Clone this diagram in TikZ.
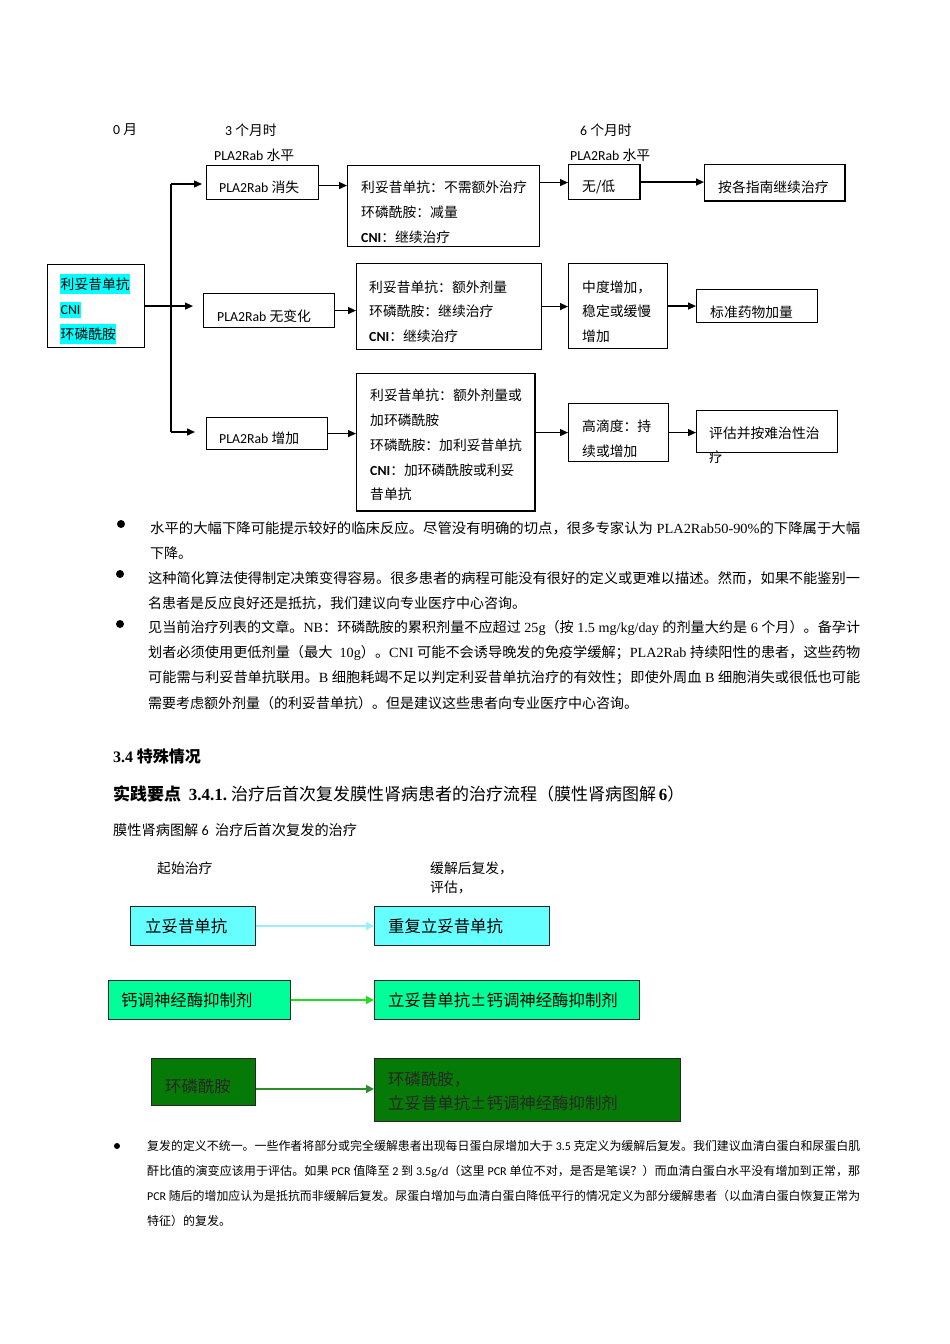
\documentclass[tikz,border=0pt]{standalone}
\usepackage{fontspec}
\usepackage{graphicx}
\setmainfont{Noto Sans CJK SC}
\newfontfamily\calib{Carlito}
\newfontfamily\tnr{Liberation Serif}
\usetikzlibrary{arrows.meta}
\definecolor{hlcyan}{HTML}{00FFFF}
\definecolor{boxcyan}{HTML}{66FFFF}
\definecolor{arrcyan}{HTML}{99EEFF}
\definecolor{boxmint}{HTML}{00FF99}
\definecolor{arrgreen}{HTML}{22DD22}
\definecolor{boxdark}{HTML}{067A06}
\definecolor{arrdark}{HTML}{2E8B2E}
\newcommand\fullline[2]{\resizebox{#1}{\height}{#2}}
\begin{document}
\begin{tikzpicture}[x=1pt,y=-1pt,
  bx/.style={draw=black, line width=1.1pt, anchor=north west, inner sep=0pt},
  tx/.style={anchor=west, inner sep=0pt, font=\fontsize{13.8}{16}\selectfont},
  hl/.style={tx, fill=hlcyan, inner xsep=0.5pt, inner ysep=3.5pt},
  arr/.style={draw=black, line width=1.3pt, -{Triangle[length=8pt,width=7pt]}},
  bt/.style={anchor=west, inner sep=0pt, font=\fontsize{14}{16}\selectfont},
  nt/.style={anchor=west, inner sep=0pt, font=\fontsize{12}{14}\selectfont},
  dot/.style={circle, fill=black, inner sep=0pt, minimum size=8pt},
  cb/.style={draw=black!85, line width=0.9pt, anchor=north west, inner sep=0pt},
  bigt/.style={anchor=west, inner sep=0pt, font=\fontsize{16.4}{18}\selectfont},
  carr/.style={line width=1.6pt, -{Triangle[length=8pt,width=8pt]}}
]
\fill[white] (0,0) rectangle (950,1344);
\useasboundingbox (0,0) rectangle (950,1344);

% ---------- top headers
\node[tx] (h0) at (113,130) {{\calib 0} 月};
\node[tx] (h3) at (225,130) {{\calib 3} 个月时};
\node[tx] (h6) at (580,130) {{\calib 6} 个月时};
\node[tx] (p3) at (214,155) {{\calib PLA2Rab} 水平};
\node[tx] (p6) at (570,155) {{\calib PLA2Rab} 水平};

% ---------- start box
\node[bx, minimum width=97pt, minimum height=83pt] (s) at (47,264) {};
\node[hl] (s1) at (60,284) {利妥昔单抗};
\node[hl] (s2) at (60,310) {{\calib CNI}};
\node[hl] (s3) at (60,334) {环磷酰胺};

% ---------- row A
\node[bx, minimum width=112pt, minimum height=34pt] (a1) at (206,165) {};
\node[tx] (a1t) at (219,187) {{\calib PLA2Rab} 消失};
\node[bx, minimum width=192pt, minimum height=81pt] (a2) at (347,165) {};
\node[tx] (a2t1) at (361,187) {利妥昔单抗：不需额外治疗};
\node[tx] (a2t2) at (361,212) {环磷酰胺：减量};
\node[tx] (a2t3) at (361,237) {{\calib\bfseries CNI}：继续治疗};
\node[bx, minimum width=71pt, minimum height=35pt] (a3) at (568,164) {};
\node[tx] (a3t) at (582,187) {无/低};
\node[bx, minimum width=140pt, minimum height=36pt] (a4) at (704,164) {};
\node[tx] (a4t) at (718,187) {按各指南继续治疗};

% ---------- row B
\node[bx, minimum width=131pt, minimum height=34pt] (b1) at (203,293) {};
\node[tx] (b1t) at (217,316) {{\calib PLA2Rab} 无变化};
\node[bx, minimum width=185pt, minimum height=86pt] (b2) at (356,263) {};
\node[tx] (b2t1) at (369,287) {利妥昔单抗：额外剂量};
\node[tx] (b2t2) at (369,311) {环磷酰胺：继续治疗};
\node[tx] (b2t3) at (369,336) {{\calib\bfseries CNI}：继续治疗};
\node[bx, minimum width=99pt, minimum height=85pt] (b3) at (568,263) {};
\node[tx] (b3t1) at (582,287) {中度增加，};
\node[tx] (b3t2) at (582,311) {稳定或缓慢};
\node[tx] (b3t3) at (582,336) {增加};
\node[bx, minimum width=121pt, minimum height=33pt] (b4) at (696,289) {};
\node[tx] (b4t) at (710,312) {标准药物加量};

% ---------- row C
\node[bx, minimum width=121pt, minimum height=32pt] (c1) at (206,417) {};
\node[tx] (c1t) at (219,438) {{\calib PLA2Rab} 增加};
\node[bx, minimum width=178pt, minimum height=137pt] (c2) at (356,373) {};
\node[tx] (c2t1) at (370,395) {利妥昔单抗：额外剂量或};
\node[tx] (c2t2) at (370,420) {加环磷酰胺};
\node[tx] (c2t3) at (370,445) {环磷酰胺：加利妥昔单抗};
\node[tx] (c2t4) at (370,470) {{\calib\bfseries CNI}：加环磷酰胺或利妥};
\node[tx] (c2t5) at (370,494) {昔单抗};
\node[bx, minimum width=100pt, minimum height=58pt] (c3) at (568,403) {};
\node[tx] (c3t1) at (582,426) {高滴度：持};
\node[tx] (c3t2) at (582,451) {续或增加};
\node[bx, minimum width=141pt, minimum height=42pt] (c4) at (696,410) {};
\node[tx] (c4t1) at (709,433) {评估并按难治性治};
\node[tx] (c4t2) at (709,457) {疗};

% thicker shadow edges
\draw[line width=2pt] (a3.north east) -- (a3.south east);
\draw[line width=2pt] (a4.north east) -- (a4.south east) -- (a4.south west);
\draw[line width=2pt] (c2.north east) -- (c2.south east) -- (c2.south west);

% ---------- connectors
\coordinate (jt) at (171,184);
\coordinate (jb) at (171,432);
\draw[line width=1.1pt] (jt) -- (jb);
\draw[arr] (jt) -- ([xshift=-4pt]jt -| a1.west);
\draw[arr] (s.east) -- ([xshift=-10pt]s.east -| b1.west);
\draw[arr] (jb) -- ([xshift=-11pt]jb -| c1.west);
\draw[arr] ([yshift=-3pt]a1.east) -- ([yshift=-3pt]a1.east -| a2.west);
\draw[arr] (a2.east |- a1.east) -- (a1.east -| a3.west);
\draw[arr] (a3.east) -- (a3.east -| a4.west);
\draw[arr] (b1.east) -- (b1.east -| b2.west);
\draw[arr] (b2.east) -- (b2.east -| b3.west);
\draw[arr] (b3.east) -- (b3.east -| b4.west);
\draw[arr] (c1.east) -- (c1.east -| c2.west);
\draw[arr] (c2.east |- c3.west) -- (c3.west);
\draw[arr] (c3.east) -- (c3.east -| c4.west);

% ---------- bullets
\node[dot] (d1) at (121,524) {};
\node[bt] (l11) at (150,528) {\fullline{710pt}{水平的大幅下降可能提示较好的临床反应。尽管没有明确的切点，很多专家认为{\tnr\ PLA2Rab50-90\%}的下降属于大幅}};
\node[bt] (l12) at (150,553) {下降。};
\node[dot] (d2) at (120,574) {};
\node[bt] (l21) at (148,578) {\fullline{712pt}{这种简化算法使得制定决策变得容易。很多患者的病程可能没有很好的定义或更难以描述。然而，如果不能鉴别一}};
\node[bt] (l22) at (148,603) {名患者是反应良好还是抵抗，我们建议向专业医疗中心咨询。};
\node[dot] (d3) at (120,624) {};
\node[bt] (l31) at (148,628) {\fullline{712pt}{见当前治疗列表的文章。{\tnr NB}：环磷酰胺的累积剂量不应超过{\tnr\ 25g}（按{\tnr\ 1.5 mg/kg/day }的剂量大约是{\tnr\ 6 }个月）。备孕计}};
\node[bt] (l32) at (148,653) {\fullline{712pt}{划者必须使用更低剂量（最大{\tnr\ \ 10g}）。{\tnr CNI }可能不会诱导晚发的免疫学缓解；{\tnr PLA2Rab }持续阳性的患者，这些药物}};
\node[bt] (l33) at (148,678) {\fullline{712pt}{可能需与利妥昔单抗联用。{\tnr B }细胞耗竭不足以判定利妥昔单抗治疗的有效性；即使外周血{\tnr\ B }细胞消失或很低也可能}};
\node[bt] (l34) at (148,703) {需要考虑额外剂量（的利妥昔单抗）。但是建议这些患者向专业医疗中心咨询。};

% ---------- section
\node[anchor=west, inner sep=0pt, font=\fontsize{16}{18}\selectfont\bfseries] (sec) at (113,756) {{\tnr 3.4} 特殊情况};
\node[anchor=west, inner sep=0pt, font=\fontsize{17}{19}\selectfont] (pp) at (113,794) {{\bfseries 实践要点\ \ {\tnr 3.4.1.}}\ 治疗后首次复发膜性肾病患者的治疗流程（膜性肾病图解\,{\tnr\bfseries 6}）};
\node[anchor=west, inner sep=0pt, font=\fontsize{14.2}{16}\selectfont] (cap) at (113,830) {膜性肾病图解 {\calib 6}\ \ 治疗后首次复发的治疗};
\node[tx] (lb1) at (157,868) {起始治疗};
\node[tx] (lb2) at (430,868) {缓解后复发，};
\node[tx] (lb3) at (430,887) {评估，};

% ---------- bottom flow
\node[cb, fill=boxcyan, minimum width=125pt, minimum height=39pt] (r1l) at (130,906) {};
\node[bigt] (r1lt) at (145,926) {立妥昔单抗};
\node[cb, fill=boxcyan, minimum width=175pt, minimum height=39pt] (r1r) at (374,906) {};
\node[bigt] (r1rt) at (388,926) {重复立妥昔单抗};
\draw[carr, draw=arrcyan, fill=arrcyan] (r1l.east) -- (r1l.east -| r1r.west);

\node[cb, fill=boxmint, minimum width=182pt, minimum height=39pt] (r2l) at (108,980) {};
\node[bigt] (r2lt) at (121,1000) {钙调神经酶抑制剂};
\node[cb, fill=boxmint, minimum width=265pt, minimum height=39pt] (r2r) at (374,980) {};
\node[bigt] (r2rt) at (388,1000) {立妥昔单抗±钙调神经酶抑制剂};
\draw[carr, draw=arrgreen, fill=arrgreen] (r2l.east) -- (r2l.east -| r2r.west);

\node[cb, fill=boxdark, minimum width=104pt, minimum height=47pt] (r3l) at (151,1058) {};
\node[bigt, text=black!85] (r3lt) at (165,1086) {环磷酰胺};
\node[cb, fill=boxdark, minimum width=306pt, minimum height=63pt] (r3r) at (374,1058) {};
\node[bigt, text=black!85] (r3rt1) at (388,1079) {环磷酰胺，};
\node[bigt, text=black!85] (r3rt2) at (388,1103) {立妥昔单抗±钙调神经酶抑制剂};
\draw[carr, draw=arrdark, fill=arrdark] ([yshift=-7pt]r3l.east) -- ([yshift=-7pt]r3l.east -| r3r.west);

% ---------- note
\node[dot, minimum size=6pt] (d4) at (117,1146) {};
\node[nt] (n1) at (147,1146) {\fullline{713pt}{复发的定义不统一。一些作者将部分或完全缓解患者出现每日蛋白尿增加大于{\calib\ 3.5 }克定义为缓解后复发。我们建议血清白蛋白和尿蛋白肌}};
\node[nt] (n2) at (147,1171) {\fullline{713pt}{酐比值的演变应该用于评估。如果{\calib\ PCR }值降至{\calib\ 2 }到{\calib\ 3.5g/d}（这里{\calib\ PCR }单位不对，是否是笔误？）而血清白蛋白水平没有增加到正常，那}};
\node[nt] (n3) at (147,1196) {\fullline{713pt}{{\calib PCR }随后的增加应认为是抵抗而非缓解后复发。尿蛋白增加与血清白蛋白降低平行的情况定义为部分缓解患者（以血清白蛋白恢复正常为}};
\node[nt] (n4) at (147,1221) {特征）的复发。};
\end{tikzpicture}
\end{document}
